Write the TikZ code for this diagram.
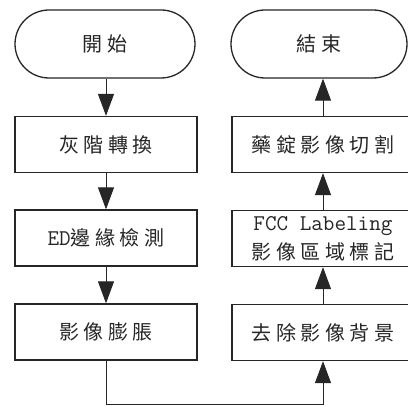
\documentclass[tikz,border=0pt]{standalone}
\usepackage{fontspec}
\newfontfamily\cjk[LetterSpace=23]{Noto Sans CJK TC}
\usetikzlibrary{arrows.meta}
\newcommand{\cjkfs}{\cjk\fontsize{20}{29}\selectfont}
\newcommand{\latfs}{\ttfamily\fontsize{22.5}{29}\selectfont}
\begin{document}
\begin{tikzpicture}[x=1pt,y=-1pt,
  box/.style={draw=black!85, line width=1.3pt, minimum width=182pt, minimum height=56pt,
    inner sep=0pt, align=center, font=\cjkfs, text=black!85},
  term/.style={box, minimum height=68pt, rounded corners=34pt},
  arr/.style={line width=1pt, draw=black!85, -{Triangle[length=22pt,width=16pt]}}]
\clip (0,0) rectangle (408,406);
\fill[white] (0,0) rectangle (408,406);
% left column
\node[term, minimum width=180pt] (start) at (105,44) {開始};
\node[box] (b1) at (106,144.5) {灰階轉換};
\node[box] (b2) at (106,238) {{\latfs ED}邊緣檢測};
\node[box] (b3) at (106,332) {影像膨脹};
% right column
\node[term, minimum width=176pt] (end) at (319,44) {結束};
\node[box] (r1) at (323,144.5) {藥錠影像切割};
\node[box] (r2) at (323,238.5) {{\latfs FCC Labeling}\\影像區域標記};
\node[box] (r3) at (323,332.5) {去除影像背景};
% connectors
\draw[arr] (start.south -| b1.north) -- (b1.north);
\draw[arr] (b1) -- (b2);
\draw[arr] (b2) -- (b3);
\draw[arr] (b3.south) -- ++(0,44) coordinate (c1) -| (r3.south);
\draw[arr] (r3) -- (r2);
\draw[arr] (r2) -- (r1);
\draw[arr] (r1.north) -- (r1.north |- end.south);
\end{tikzpicture}
\end{document}
